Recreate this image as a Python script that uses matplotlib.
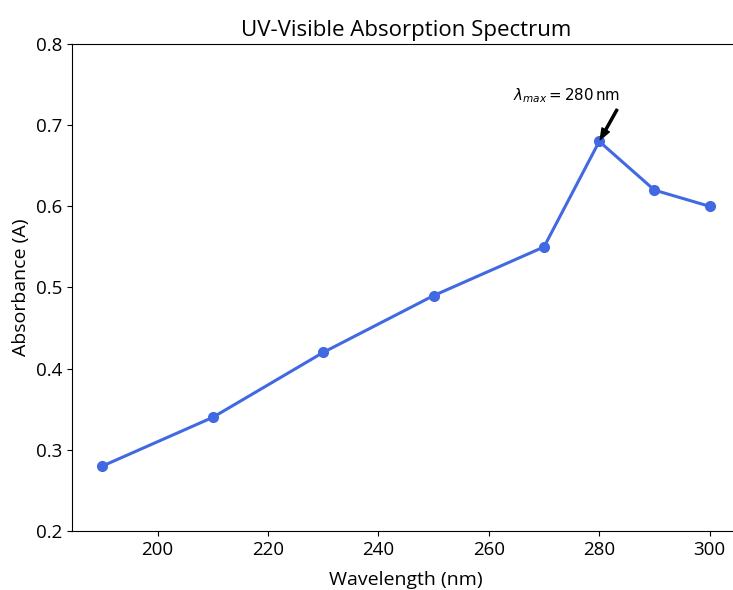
import matplotlib
matplotlib.use('Agg')
import matplotlib.pyplot as plt

wavelength = [190, 210, 230, 250, 270, 280, 290, 300]
absorbance = [0.28, 0.34, 0.42, 0.49, 0.55, 0.68, 0.62, 0.60]
peak_x = 280
peak_y = 0.68

plt.rcParams['font.family'] = ['Open Sans', 'DejaVu Sans']
plt.rcParams['mathtext.fontset'] = 'dejavusans'

fig = plt.figure(figsize=(7.33, 5.9), dpi=100)
ax = fig.add_axes([72/733, 59/590, 668/733, 487/590])

ax.plot(wavelength, absorbance, marker='o', color='royalblue', linewidth=2.2, markersize=7)
ax.set_ylim(0.2, 0.8)
ax.set_xlim(184.5, 305.5)

ax.set_title('UV-Visible Absorption Spectrum', fontsize=16)
ax.set_xlabel('Wavelength (nm)', fontsize=14, labelpad=9)
ax.set_ylabel('Absorbance (A)', fontsize=14, labelpad=4)
ax.tick_params(labelsize=13.5)

ax.annotate(r'$\lambda_{max} = 280\,\mathrm{nm}$', xy=(peak_x, peak_y), xytext=(283.7, 0.725),
            ha='right', va='bottom', fontsize=10.8,
            arrowprops=dict(facecolor='black', shrink=0.05, width=1.5, headwidth=6, headlength=8))

plt.savefig('out.png', dpi=100)
